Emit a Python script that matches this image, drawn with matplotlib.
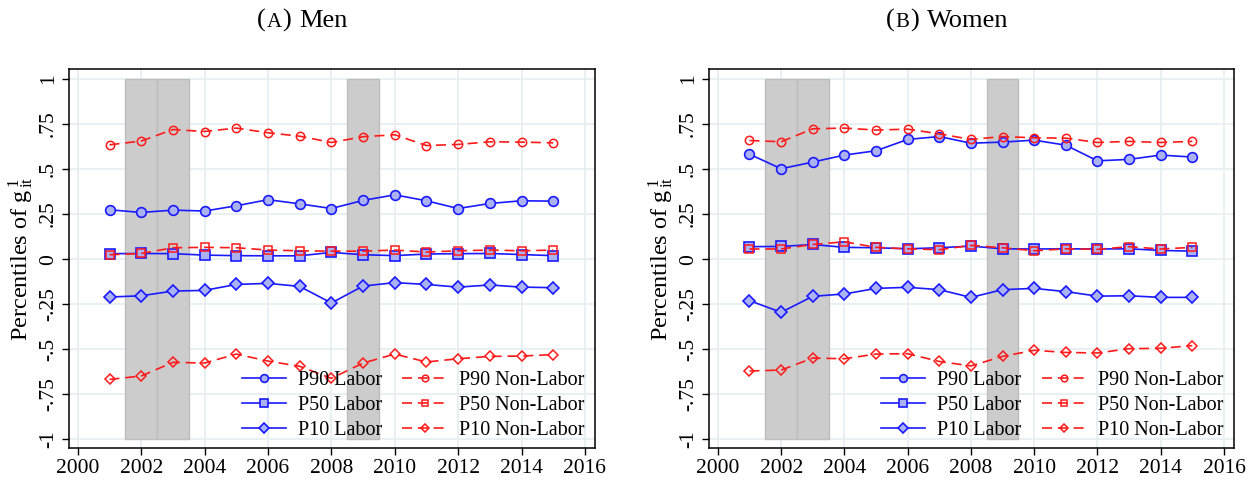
import numpy as np
import matplotlib
matplotlib.use("Agg")
import matplotlib.pyplot as plt

plt.rcParams['font.family'] = ['Liberation Serif', 'DejaVu Serif']
plt.rcParams['mathtext.fontset'] = 'custom'
plt.rcParams['mathtext.rm'] = 'Liberation Serif'
plt.rcParams['mathtext.it'] = 'Liberation Serif'

years = np.arange(2001, 2016)
recession_years = [2002, 2003, 2009]

# men
men_p90_lab = [0.274, 0.259, 0.272, 0.267, 0.296, 0.330, 0.307, 0.281, 0.326, 0.357, 0.324, 0.281, 0.309, 0.324, 0.322]
men_p50_lab = [0.030, 0.031, 0.030, 0.022, 0.019, 0.018, 0.018, 0.037, 0.024, 0.019, 0.028, 0.030, 0.031, 0.025, 0.019]
men_p10_lab = [-0.211, -0.204, -0.178, -0.174, -0.141, -0.135, -0.152, -0.244, -0.150, -0.131, -0.141, -0.156, -0.144, -0.156, -0.159]
men_p90_non = [0.635, 0.656, 0.720, 0.709, 0.728, 0.702, 0.683, 0.648, 0.680, 0.691, 0.631, 0.637, 0.652, 0.650, 0.646]
men_p50_non = [0.024, 0.031, 0.063, 0.065, 0.063, 0.050, 0.046, 0.044, 0.044, 0.050, 0.039, 0.046, 0.050, 0.046, 0.050]
men_p10_non = [-0.669, -0.650, -0.574, -0.578, -0.528, -0.567, -0.596, -0.663, -0.578, -0.528, -0.572, -0.554, -0.541, -0.539, -0.531]

# women
wom_p90_lab = [0.583, 0.502, 0.539, 0.578, 0.602, 0.665, 0.681, 0.644, 0.650, 0.661, 0.633, 0.546, 0.554, 0.578, 0.567]
wom_p50_lab = [0.069, 0.070, 0.081, 0.065, 0.063, 0.057, 0.063, 0.072, 0.057, 0.056, 0.057, 0.056, 0.057, 0.048, 0.044]
wom_p10_lab = [-0.231, -0.296, -0.207, -0.194, -0.163, -0.157, -0.170, -0.213, -0.170, -0.163, -0.181, -0.206, -0.204, -0.213, -0.213]
wom_p90_non = [0.659, 0.652, 0.724, 0.728, 0.717, 0.722, 0.696, 0.665, 0.681, 0.674, 0.672, 0.648, 0.654, 0.648, 0.654]
wom_p50_non = [0.056, 0.056, 0.081, 0.096, 0.065, 0.057, 0.052, 0.076, 0.063, 0.046, 0.057, 0.054, 0.069, 0.056, 0.065]
wom_p10_non = [-0.622, -0.617, -0.550, -0.554, -0.528, -0.526, -0.569, -0.594, -0.541, -0.507, -0.519, -0.522, -0.498, -0.496, -0.481]

yticks = [1, 0.75, 0.5, 0.25, 0, -0.25, -0.5, -0.75, -1]
ytick_labels = ['1', '.75', '.5', '.25', '0', '-.25', '-.5', '-.75', '-1']
xticks = np.arange(2000, 2017, 2)

blue = '#1a1aff'
red = '#ff1a1a'
blue_fill = '#aab2f2'

fig = plt.figure(figsize=(12.58, 4.83), dpi=100)
ax1 = fig.add_axes([0.0548, 0.0725, 0.4182, 0.7845])
ax2 = fig.add_axes([0.5636, 0.0725, 0.4174, 0.7845])


def draw_panel(ax, lab, non):
    ax.bar(recession_years, 2, bottom=-1, width=1, color='#cccccc',
           edgecolor='#bdbdbd', linewidth=1, zorder=1)
    names = ['P90', 'P50', 'P10']
    markers = ['o', 's', 'D']
    sizes = [7, 6.5, 6.5]
    lab_lines = []
    non_lines = []
    for i in range(3):
        l, = ax.plot(years, lab[i], color=blue, lw=1.2, marker=markers[i],
                     ms=sizes[i], mfc=blue_fill, mec=blue, mew=1.2,
                     label=names[i] + ' Labor', zorder=3)
        lab_lines.append(l)
    for i in range(3):
        l, = ax.plot(years, non[i], color=red, lw=1.2, ls=(0, (6, 3.5)),
                     marker=markers[i], ms=sizes[i] - 1, mfc='none', mec=red,
                     mew=1.1, label=names[i] + ' Non-Labor', zorder=3)
        non_lines.append(l)
    ax.set_xlim(1999.72, 2016.32)
    ax.set_ylim(-1.05, 1.056)
    ax.set_xticks(xticks)
    ax.set_yticks(yticks)
    ax.set_yticklabels(ytick_labels, rotation=90, va='center')
    ax.tick_params(labelsize=15.5, length=5, width=1, direction='out', pad=3)
    ax.grid(True, color='#e6eff1', lw=1.3, zorder=0)
    ax.set_axisbelow(True)
    for s in ax.spines.values():
        s.set_linewidth(1.1)
        s.set_color('black')
    ax.set_ylabel(r'Percentiles of g$^{\,1}_{\,\mathrm{it}}$', fontsize=17.5)
    ax.yaxis.set_label_coords(-0.062, 0.5)
    leg = ax.legend(handles=lab_lines + non_lines, ncol=2, loc='lower right',
                    frameon=False, fontsize=14.5, handlelength=2.2,
                    handletextpad=0.6, columnspacing=1.0, labelspacing=0.3,
                    markerscale=0.8, borderaxespad=0.0,
                    bbox_to_anchor=(0.995, 0.0))
    return leg


draw_panel(ax1, [men_p90_lab, men_p50_lab, men_p10_lab],
           [men_p90_non, men_p50_non, men_p10_non])
draw_panel(ax2, [wom_p90_lab, wom_p50_lab, wom_p10_lab],
           [wom_p90_non, wom_p50_non, wom_p10_non])


def panel_title(ax, x_px, letter, word):
    # "(A) Men" with a small-caps letter
    t = ax.annotate('(', xy=(x_px / 1258, 1 - 27 / 483), xycoords='figure fraction',
                    ha='left', va='baseline', fontsize=19, annotation_clip=False)
    t = ax.annotate(letter, xy=(1, 0), xycoords=t, xytext=(0.5, 0), textcoords='offset points',
                    ha='left', va='bottom', fontsize=15, annotation_clip=False)
    t = ax.annotate(')', xy=(1, 0), xycoords=t, xytext=(0.5, 0), textcoords='offset points',
                    ha='left', va='bottom', fontsize=19, annotation_clip=False)
    ax.annotate(word, xy=(1, 0), xycoords=t, xytext=(6, 0), textcoords='offset points',
                ha='left', va='bottom', fontsize=19, annotation_clip=False)


panel_title(ax1, 257, 'A', 'Men')
panel_title(ax2, 886, 'B', 'Women')

fig.savefig('out.png', dpi=100)
